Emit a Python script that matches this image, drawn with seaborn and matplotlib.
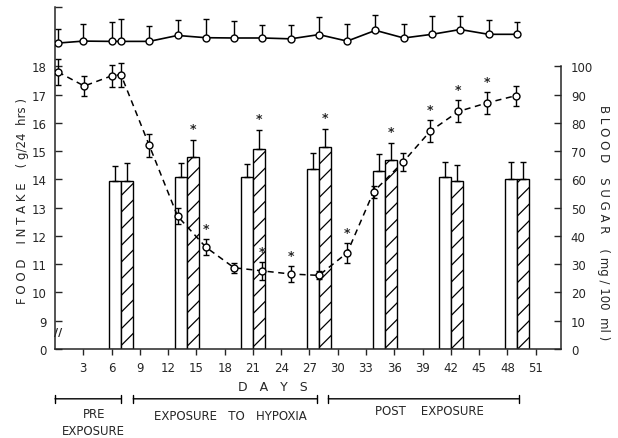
import numpy as np
import pandas as pd
import matplotlib
matplotlib.use("Agg")
import matplotlib.pyplot as plt
import seaborn as sns


# ============================
# Data
# ============================

# food intake (g/24 hrs), hypoxia group -> dashed line
hyp_days = [0.3, 3.1, 6.0, 7.0, 10.0, 13.0, 16.0, 19.0, 22.0, 25.0, 28.0, 31.0,
            33.8, 36.9, 39.8, 42.8, 45.8, 48.9]
hyp_intake = [17.80, 17.30, 17.66, 17.70, 15.20, 12.70, 11.60, 10.87, 10.76, 10.65,
              10.60, 11.40, 13.56, 14.60, 15.70, 16.40, 16.70, 16.96]
hyp_err = [0.46, 0.35, 0.39, 0.42, 0.42, 0.28, 0.28, 0.18, 0.32, 0.28,
           0.14, 0.35, 0.21, 0.32, 0.39, 0.39, 0.39, 0.35]
hyp_signif = [0, 0, 0, 0, 0, 0, 1, 0, 1, 1, 0, 1, 0, 0, 1, 1, 1, 0]

# control group -> solid line along the top
ctl_days = [0.3, 3.0, 6.0, 7.0, 10.0, 13.0, 16.0, 19.0, 22.0, 25.0, 28.0, 31.0,
            34.0, 37.0, 40.0, 43.0, 46.0, 49.0]
ctl_intake = [18.82, 18.89, 18.88, 18.88, 18.88, 19.09, 19.01, 19.00, 19.00, 18.97,
              19.12, 18.89, 19.27, 19.00, 19.13, 19.30, 19.13, 19.13]
ctl_err = [0.50, 0.60, 0.67, 0.78, 0.53, 0.56, 0.65, 0.59, 0.47, 0.50,
           0.63, 0.59, 0.53, 0.51, 0.65, 0.47, 0.52, 0.44]

# blood sugar (mg/100 ml), weekly bars
bar_days = [7, 14, 21, 28, 35, 42, 49]
sugar_control = [59.5, 60.9, 60.9, 63.7, 63.0, 60.9, 60.2]
sugar_control_err = [5.3, 5.0, 4.6, 5.7, 6.0, 5.3, 6.0]
sugar_hypoxia = [59.5, 67.9, 70.8, 71.5, 66.9, 59.5, 60.2]
sugar_hypoxia_err = [6.4, 6.0, 6.7, 6.4, 6.0, 5.7, 6.0]
sugar_signif = [0, 1, 1, 1, 1, 0, 0]

x_ticks = list(range(3, 52, 3))
intake_ticks = [0, 9, 10, 11, 12, 13, 14, 15, 16, 17, 18]
sugar_ticks = list(range(0, 101, 10))

periods = ["PRE\nEXPOSURE", "EXPOSURE   TO   HYPOXIA", "POST    EXPOSURE"]
period_start = [0.0, 8.3, 29.0]
period_end = [7.0, 27.8, 49.2]


# ============================
# Helpers
# ============================

def broken_fwd(v):
    """0..9 squeezed into one tick step, linear above 9."""
    v = np.asarray(v, dtype=float)
    return np.where(v < 9, v / 9.0, v - 8.0)


def broken_inv(p):
    p = np.asarray(p, dtype=float)
    return np.where(p < 1, p * 9.0, p + 8.0)


def main():
    sns.set_style("ticks")
    plt.rcParams['font.family'] = ['DejaVu Sans']
    plt.rcParams['hatch.linewidth'] = 0.9
    fs = 8.5

    fig = plt.figure(figsize=(6.18, 4.39), dpi=100)
    ax = fig.add_axes([0.089, 0.203, 0.819, 0.779])
    ax2 = ax.twinx()
    ax.set_zorder(ax2.get_zorder() + 1)
    ax.patch.set_visible(False)

    top_val = 20.1
    ax.set_yscale('function', functions=(broken_fwd, broken_inv))
    ax.set_ylim(0, top_val)
    ax2.set_ylim(0, 10 * (top_val - 8))

    # blood sugar bars (right axis)
    bars = pd.DataFrame({
        'day': bar_days * 2,
        'sugar': sugar_control + sugar_hypoxia,
        'group': ['control'] * len(bar_days) + ['hypoxia'] * len(bar_days),
    })
    sns.barplot(data=bars, x='day', y='sugar', hue='group',
                hue_order=['control', 'hypoxia'], native_scale=True,
                width=0.36, dodge=True, palette=['white', 'white'],
                saturation=1, edgecolor='black', linewidth=1.0,
                errorbar=None, legend=False, ax=ax2)
    conts = list(ax2.containers[:2])
    for p in conts[1]:
        p.set_hatch('//')

    for cont, vals, errs in zip(conts, [sugar_control, sugar_hypoxia],
                                [sugar_control_err, sugar_hypoxia_err]):
        cx = [p.get_x() + p.get_width() / 2 for p in cont]
        ax2.errorbar(cx, vals, yerr=[np.zeros(len(errs)), errs], fmt='none',
                     ecolor='black', elinewidth=1, capsize=2.5, capthick=1)
        if vals is sugar_hypoxia:
            for x, v, e, s in zip(cx, vals, errs, sugar_signif):
                if s:
                    ax2.text(x, v + e + 4.0, '*', ha='center', va='center',
                             fontsize=9, fontweight='bold')

    # food intake lines (left axis)
    ax.errorbar(ctl_days, ctl_intake, yerr=[np.zeros(len(ctl_err)), ctl_err],
                fmt='none', ecolor='black', elinewidth=1, capsize=2.5, capthick=1)
    sns.lineplot(x=ctl_days, y=ctl_intake, ax=ax, color='black', linewidth=1.2,
                 marker='o', markersize=5, markerfacecolor='white',
                 markeredgecolor='black', markeredgewidth=1, zorder=4)

    ax.errorbar(hyp_days, hyp_intake, yerr=hyp_err, fmt='none', ecolor='black',
                elinewidth=1, capsize=2.5, capthick=1)
    sns.lineplot(x=hyp_days, y=hyp_intake, ax=ax, color='black', linewidth=1.1,
                 linestyle=(0, (4, 3)), marker='o', markersize=5,
                 markerfacecolor='white', markeredgecolor='black',
                 markeredgewidth=1, zorder=4)
    for x, v, e, s in zip(hyp_days, hyp_intake, hyp_err, hyp_signif):
        if s:
            ax.text(x, v + e + 0.38, '*', ha='center', va='center',
                    fontsize=9, fontweight='bold')

    # axes cosmetics
    ax.set_xlim(0, 53.7)
    ax.set_xticks(x_ticks)
    ax.set_yticks(intake_ticks)
    ax.set_yticklabels([str(t) for t in intake_ticks])
    ax.set_yticks([top_val], minor=True)
    ax2.set_yticks(sugar_ticks)

    ax.tick_params(axis='y', which='both', direction='in', length=5, width=1,
                   pad=6, labelsize=fs, left=True, right=False)
    ax.tick_params(axis='x', direction='out', length=4, width=1, pad=5, labelsize=fs)
    ax2.tick_params(axis='y', direction='in', length=5, width=1, pad=7, labelsize=fs)

    for side in ['top', 'right']:
        ax.spines[side].set_visible(False)
    for side in ['top', 'left', 'bottom']:
        ax2.spines[side].set_visible(False)
    ax2.spines['right'].set_bounds(0, 100)
    for sp in [ax.spines['left'], ax.spines['bottom'], ax2.spines['right']]:
        sp.set_linewidth(1.1)

    # axis break mark between 0 and 9
    ax.text(0.35, 5.4, '//', ha='center', va='center', fontsize=8, fontweight='bold')

    ax.set_xlabel('D   A   Y   S', fontsize=9)
    ax.xaxis.set_label_coords(0.43, -0.09)
    ax.set_ylabel('F O O D    I N T A K E    ( g/24  hrs )', fontsize=fs,
                  va='center')
    ax.yaxis.set_label_coords(-0.065, 0.436)
    ax2.set_ylabel('B L O O D    S U G A R    ( mg / 100  ml )', fontsize=fs,
                   rotation=270, va='center')
    ax2.yaxis.set_label_coords(1.083, 0.371)

    # exposure periods below the axis
    trans = ax.get_xaxis_transform()
    label_y = [-0.213, -0.196, -0.181]
    for lab, s, e, ly in zip(periods, period_start, period_end, label_y):
        ax.annotate('', xy=(s, -0.146), xytext=(e, -0.146),
                    xycoords=('data', 'axes fraction'),
                    arrowprops=dict(arrowstyle='|-|,widthA=0.3,widthB=0.3',
                                    lw=1, color='black', shrinkA=0, shrinkB=0),
                    annotation_clip=False)
        ax.text((s + e) / 2 + 0.6, ly, lab, transform=trans, ha='center',
                va='center', fontsize=fs, linespacing=1.4)

    fig.savefig('out.png', dpi=100)
    plt.close(fig)


if __name__ == "__main__":
    main()
